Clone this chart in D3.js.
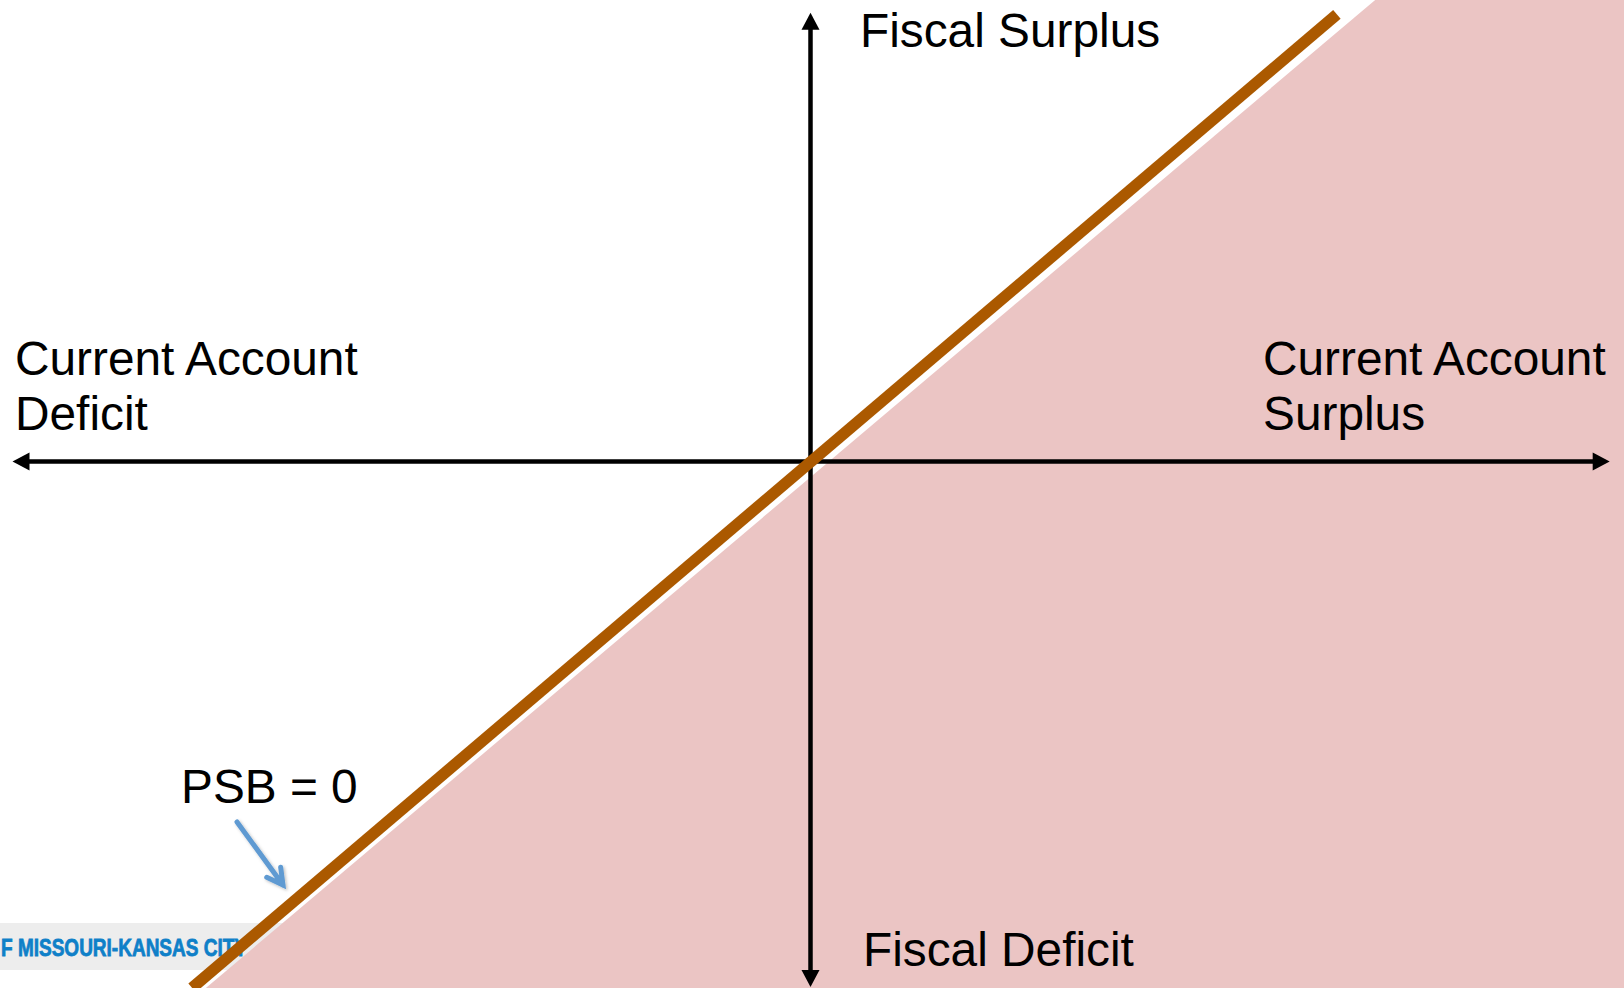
<!DOCTYPE html>
<html>
<head>
<meta charset="utf-8">
<script src="https://cdn.jsdelivr.net/npm/d3@7"></script>
<style>
  html, body { margin: 0; padding: 0; background: #ffffff; overflow: hidden; }
  svg { display: block; }
</style>
</head>
<body>
<svg id="chart" width="1624" height="988"></svg>
<script>
// ---- data ----
const caDomain = [-100, 100];          // current account (balance), conceptual units
const fbDomain = [-100, 100];          // fiscal balance, conceptual units
const caAxisExtent = [-99.75, 99.9];   // horizontal axis extent
const fbAxisExtent = [-65.7, 56.1];    // vertical axis extent
const psbLineCA = [-77.3, 65.8];       // PSB = 0 line, current account values
const psbLineFB = [-65.8, 55.9];       // PSB = 0 line, fiscal balance values
const regionCA = [70.6, 102, 102, -75.8];   // shaded region vertices (CA)
const regionFB = [57.7, 57.7, -66, -66];    // shaded region vertices (FB)
const labelTexts = {
  fiscalSurplus: "Fiscal Surplus",
  fiscalDeficit: "Fiscal Deficit",
  caDeficit: ["Current Account", "Deficit"],
  caSurplus: ["Current Account", "Surplus"],
  psb: "PSB = 0",
  logo: "F MISSOURI-KANSAS CITY"
};

// ---- drawing ----
const svg = d3.select("#chart");
const W = 1624, H = 988;
const x = d3.scaleLinear().domain(caDomain).range([10.5, 1610.5]);
const y = d3.scaleLinear().domain(fbDomain).range([461.5 + 800, 461.5 - 800]);

svg.append("rect").attr("width", W).attr("height", H).attr("fill", "#ffffff");

// logo strip (bottom-left)
svg.append("rect").attr("x", 0).attr("y", 923).attr("width", 320).attr("height", 47).attr("fill", "#ededed");
svg.append("text")
  .attr("x", 1).attr("y", 955.5)
  .attr("font-family", "'Liberation Sans Narrow', 'Liberation Sans', Arial, sans-serif")
  .attr("font-weight", "bold")
  .attr("font-size", 24)
  .attr("fill", "#0f80c8")
  .attr("stroke", "#0f80c8")
  .attr("stroke-width", 0.8)
  .attr("textLength", 246)
  .attr("lengthAdjust", "spacingAndGlyphs")
  .text(labelTexts.logo);

// shaded region
const region = regionCA.map((c, i) => [x(c), y(regionFB[i])]);
svg.append("polygon")
  .attr("points", region.map(p => p.join(",")).join(" "))
  .attr("fill", "#ebc5c4");

// axes with arrowheads
const axisColor = "#000000";
const axisW = 4.5, headL = 17, headHW = 9;
function arrowHead(tx, ty, dx, dy) {
  const bx = tx - dx * headL, by = ty - dy * headL;
  const px = -dy, py = dx;
  return [[tx, ty], [bx + px * headHW, by + py * headHW], [bx - px * headHW, by - py * headHW]];
}
const x0 = x(caAxisExtent[0]), x1 = x(caAxisExtent[1]), yc = y(0);
const y0 = y(fbAxisExtent[1]), y1 = y(fbAxisExtent[0]), xc = x(0);
const axes = svg.append("g");
axes.append("line").attr("x1", x0 + headL - 2).attr("x2", x1 - headL + 2).attr("y1", yc).attr("y2", yc)
  .attr("stroke", axisColor).attr("stroke-width", axisW);
axes.append("line").attr("x1", xc).attr("x2", xc).attr("y1", y0 + headL - 2).attr("y2", y1 - headL + 2)
  .attr("stroke", axisColor).attr("stroke-width", axisW);
[arrowHead(x0, yc, -1, 0), arrowHead(x1, yc, 1, 0), arrowHead(xc, y0, 0, -1), arrowHead(xc, y1, 0, 1)]
  .forEach(pts => axes.append("polygon").attr("points", pts.map(p => p.join(",")).join(" ")).attr("fill", axisColor));

// PSB = 0 line
const line = d3.line().x(d => x(d[0])).y(d => y(d[1]));
svg.append("path")
  .attr("d", line(psbLineCA.map((c, i) => [c, psbLineFB[i]])))
  .attr("stroke", "#ab5900")
  .attr("stroke-width", 11.5)
  .attr("fill", "none")
  .attr("stroke-linecap", "butt");

// labels
const font = "'Liberation Sans', Arial, Helvetica, sans-serif";
function label(txt, lx, ly) {
  svg.append("text").attr("x", lx).attr("y", ly)
    .attr("font-family", font).attr("font-size", 47.8).attr("fill", "#000")
    .text(txt);
}
label(labelTexts.fiscalSurplus, 860, 47);
label(labelTexts.fiscalDeficit, 863, 966);
label(labelTexts.caDeficit[0], 15, 375);
label(labelTexts.caDeficit[1], 15, 430);
label(labelTexts.caSurplus[0], 1263, 375);
label(labelTexts.caSurplus[1], 1263, 430);
label(labelTexts.psb, 181, 803);

// blue annotation arrow
const defs = svg.append("defs");
const flt = defs.append("filter").attr("id", "shadow").attr("x", "-20%").attr("y", "-20%").attr("width", "140%").attr("height", "140%");
flt.append("feDropShadow").attr("dx", 1.5).attr("dy", 1.5).attr("stdDeviation", 1.5).attr("flood-color", "#000").attr("flood-opacity", 0.25);
const a0 = [237, 822], a1 = [283, 885];
const ang = Math.atan2(a1[1] - a0[1], a1[0] - a0[0]);
const wing = 18, spread = 0.5;
const w1 = [a1[0] - wing * Math.cos(ang - spread), a1[1] - wing * Math.sin(ang - spread)];
const w2 = [a1[0] - wing * Math.cos(ang + spread), a1[1] - wing * Math.sin(ang + spread)];
svg.append("path")
  .attr("d", `M${a0[0]},${a0[1]}L${a1[0]},${a1[1]}M${w1[0]},${w1[1]}L${a1[0]},${a1[1]}L${w2[0]},${w2[1]}`)
  .attr("stroke", "#5f9ad2")
  .attr("stroke-width", 5)
  .attr("fill", "none")
  .attr("stroke-linecap", "round")
  .attr("stroke-linejoin", "miter")
  .attr("filter", "url(#shadow)");
</script>
</body>
</html>
